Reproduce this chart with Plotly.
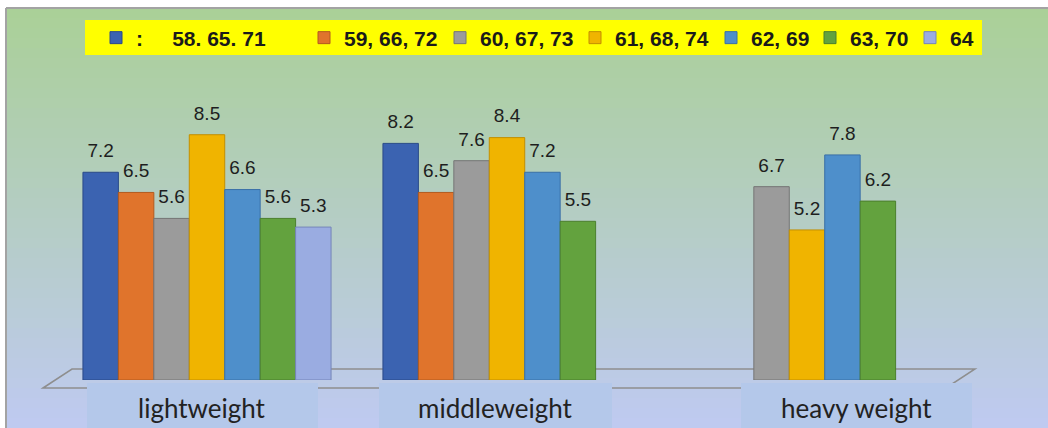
import plotly.graph_objects as go

# ---------------- data ----------------
categories = ["lightweight", "middleweight", "heavy weight"]
series_names = ["58. 65. 71", "59, 66, 72", "60, 67, 73", "61, 68, 74", "62, 69", "63, 70", "64"]
s_58_65_71 = [7.2, 8.2, None]
s_59_66_72 = [6.5, 6.5, None]
s_60_67_73 = [5.6, 7.6, 6.7]
s_61_68_74 = [8.5, 8.4, 5.2]
s_62_69 = [6.6, 7.2, 7.8]
s_63_70 = [5.6, 5.5, 6.2]
s_64 = [5.3, None, None]
series_values = [s_58_65_71, s_59_66_72, s_60_67_73, s_61_68_74, s_62_69, s_63_70, s_64]

# ---------------- style ----------------
colors = ["#3b63b1", "#e0742c", "#9b9b9b", "#f0b400", "#4e8fcb", "#63a23e", "#9aace1"]
edges = ["#2a4a88", "#b35a1e", "#757575", "#c28f00", "#3a70a6", "#4b7f2d", "#7585b8"]

W, H = 1048, 428
L, R, T, B = 45, 79, 60, 48
PW, PH = W - L - R, H - T - B
GAP = 0.173


def px(x):
    return (x - L) / PW


def py(y):
    return (H - B - y) / PH


fig = go.Figure()

legend_centers = [116, 324, 460, 595, 731, 830, 930]
for i, (name, vals) in enumerate(zip(series_names, series_values)):
    shown = (":" + "\u00a0" * 5 + name) if i == 0 else name
    fig.add_trace(go.Bar(
        x=categories, y=vals, name=shown, showlegend=True,
        marker=dict(color=colors[i], line=dict(color=edges[i], width=1)),
        legend="legend" if i == 0 else f"legend{i+1}",
    ))

# value labels, grouped like the bars
for i, (name, vals) in enumerate(zip(series_names, series_values)):
    fig.add_trace(go.Scatter(
        x=categories, y=vals, name=name, showlegend=False, mode="markers+text",
        marker=dict(size=15, opacity=0, color=colors[i]),
        text=[None if v is None else f"{v}" for v in vals],
        textposition="top center", cliponaxis=False, hoverinfo="skip",
        textfont=dict(family="Liberation Sans, Arial", size=19, color="#1e1e1e"),
    ))

shapes = []
# gradient background (chart area)
top_c = (170, 208, 151)
bot_c = (191, 202, 241)
y0, y1 = 8, 428
n = 42
for k in range(n):
    a = y0 + (y1 - y0) * k / n
    b = y0 + (y1 - y0) * (k + 1) / n
    t = (k + 0.5) / n
    c = tuple(round(top_c[j] + (bot_c[j] - top_c[j]) * t) for j in range(3))
    shapes.append(dict(type="rect", xref="paper", yref="paper", layer="below",
                       x0=px(6), x1=px(W), y0=py(b + 0.5), y1=py(a),
                       fillcolor=f"rgb{c}", line=dict(width=0)))
# border lines (top and left)
shapes.append(dict(type="line", xref="paper", yref="paper", layer="below",
                   x0=px(6), x1=px(W), y0=py(8), y1=py(8), line=dict(color="#a3a3a3", width=2)))
shapes.append(dict(type="line", xref="paper", yref="paper", layer="below",
                   x0=px(6), x1=px(6), y0=py(8), y1=py(H), line=dict(color="#a3a3a3", width=2)))
# floor parallelogram
floor = [(43, 388), (72, 369), (975, 369), (946, 388)]
path = "M " + " L ".join(f"{px(x)},{py(y)}" for x, y in floor) + " Z"
shapes.append(dict(type="path", xref="paper", yref="paper", layer="below", path=path,
                   line=dict(color="#8e8e8e", width=1.5)))
# category label boxes
for x0b, x1b in [(87, 318), (379, 612), (741, 972)]:
    shapes.append(dict(type="rect", xref="paper", yref="paper", layer="below",
                       x0=px(x0b), x1=px(x1b), y0=py(H), y1=py(383),
                       fillcolor="rgb(180,200,234)", line=dict(width=0)))
# legend yellow box
shapes.append(dict(type="rect", xref="paper", yref="paper", layer="below",
                   x0=px(85), x1=px(982), y0=py(55), y1=py(20),
                   fillcolor="#ffff00", line=dict(width=0)))

annotations = []
label_shift = [-5, -12, 49]
for c, s in zip(categories, label_shift):
    annotations.append(dict(x=c, xref="x", y=py(408), yref="paper", text=c, showarrow=False,
                            xshift=s, yanchor="middle", xanchor="center",
                            font=dict(family="Lato", size=26, color="#222222")))

layout_legends = {}
for i, cx in enumerate(legend_centers):
    key = "legend" if i == 0 else f"legend{i+1}"
    layout_legends[key] = dict(
        x=px(cx - 20), xanchor="left", y=py(38), yanchor="middle",
        orientation="h", bgcolor="rgba(0,0,0,0)", borderwidth=0,
        font=dict(family="Liberation Sans, Arial", size=21, color="#1a1a1a", weight="bold"),
    )

fig.update_layout(
    width=W, height=H,
    margin=dict(l=L, r=R, t=T, b=B, pad=0),
    paper_bgcolor="white", plot_bgcolor="rgba(0,0,0,0)",
    showlegend=True,
    barmode="group", bargap=GAP, bargroupgap=0,
    scattermode="group", scattergap=GAP,
    xaxis=dict(range=[-0.54, 2.54], showticklabels=False, showgrid=False, zeroline=False,
               showline=False, ticks=""),
    yaxis=dict(range=[0, 11.09], visible=False, showgrid=False, zeroline=False),
    shapes=shapes, annotations=annotations,
    **layout_legends,
)

fig.write_html("out.html")
